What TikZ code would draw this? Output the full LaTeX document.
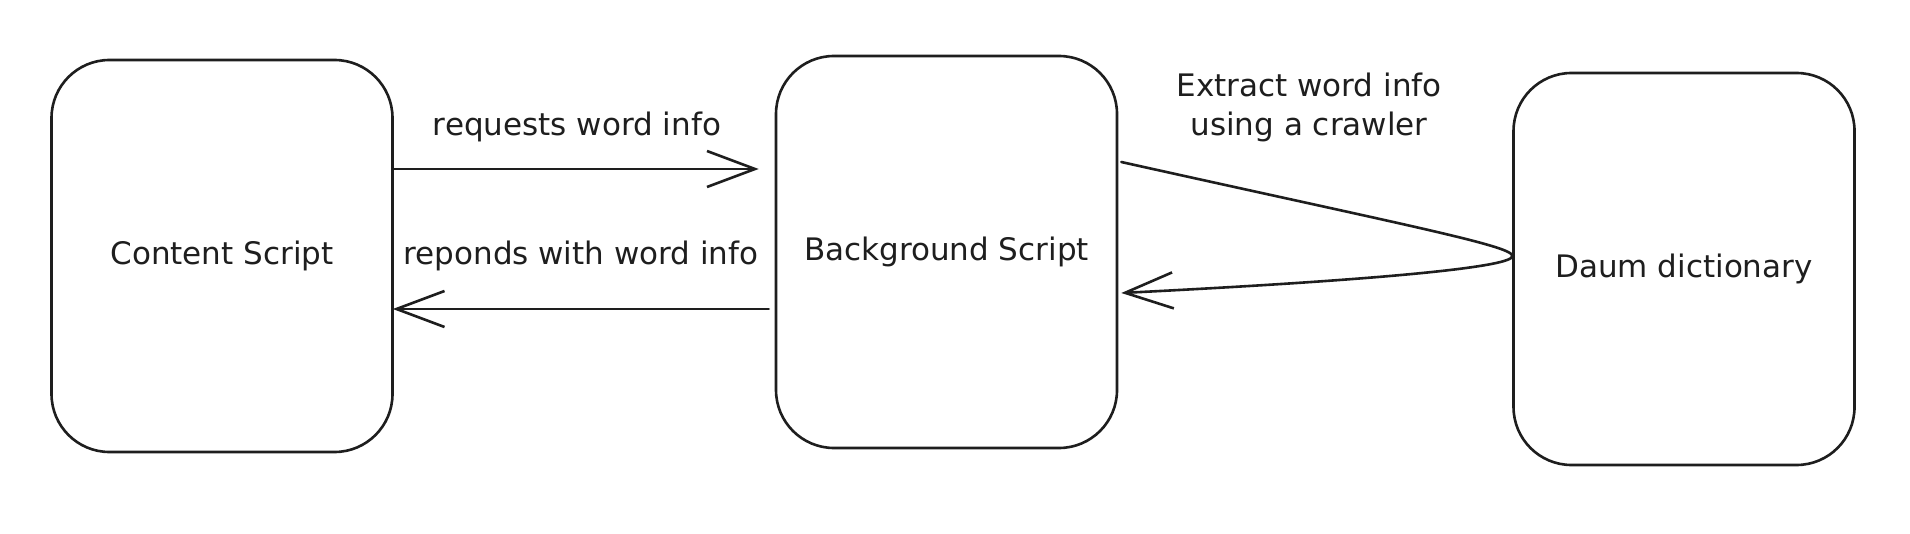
\documentclass[tikz,border=0pt]{standalone}
\usepackage{fontspec}
\setmainfont{DejaVu Sans}
\usetikzlibrary{arrows.meta}
\definecolor{ink}{HTML}{1E1E1E}
\tikzset{
  box/.style={draw=ink, line width=2.6pt, rounded corners=58pt, fill=white,
    minimum width=341pt, minimum height=392pt, inner sep=0pt,
    font=\fontsize{31}{37}\selectfont, text=ink},
  lbl/.style={font=\fontsize{31}{39}\selectfont, text=ink, inner sep=0pt, align=center},
  arr/.style={draw=ink, line width=2.6pt, line cap=round, line join=round,
    -{Straight Barb[length=48pt, width=36pt, line width=2.6pt]}},
}
\begin{document}
\begin{tikzpicture}[x=1pt, y=-1pt]
\useasboundingbox[fill=white] (0,0) rectangle (1910,534);
\node[box] (content) at (222,256) {Content Script};
\node[box] (background) at (946.5,252) {Background Script};
\node[box] (daum) at (1684,269) {Daum dictionary};

\node[lbl, anchor=base] (req) at (577,136) {requests word info};
\node[lbl, anchor=base] (resp) at (581,265) {reponds with word info};
\node[lbl, anchor=base] (extract) at (1309,136) {Extract word info\\using a crawler};

\draw[arr] (content.east |- 0,169) -- ([xshift=-16pt]background.west |- 0,169);
\draw[arr] ([xshift=-6pt]background.west |- 0,309) -- ([xshift=-1pt]content.east |- 0,309);
\draw[arr] ([xshift=3pt]background.east |- 0,162)
  .. controls (1400,224) and (1514,246) .. (daum.west |- 0,256)
  .. controls (1514,266) and (1400,279) .. ([xshift=3pt]background.east |- 0,293);
\end{tikzpicture}
\end{document}
